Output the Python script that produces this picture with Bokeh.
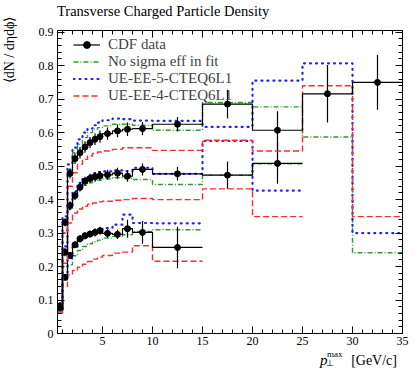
import numpy as np
from bokeh.plotting import figure
from bokeh.layouts import column, row
from bokeh.models import (LinearAxis, FixedTicker, CustomJSTickFormatter, Legend,
                          LegendItem, Range1d, Div)
from bokeh.embed import file_html
from bokeh.resources import INLINE

# ---------------- data ----------------
edges_hi = [0.5, 1, 1.5, 2, 2.5, 3, 3.5, 4, 4.5, 5, 6, 7, 8, 10, 15, 20, 25, 30, 35]
edges_mid = edges_hi[:17]
edges_lo = edges_hi[:15]

data_hi = [0.078, 0.332, 0.478, 0.522, 0.540, 0.557, 0.570, 0.580, 0.588, 0.597, 0.605, 0.610, 0.612, 0.625, 0.685, 0.607, 0.716, 0.750]
err_hi = [0.008, 0.012, 0.015, 0.016, 0.017, 0.017, 0.017, 0.017, 0.018, 0.018, 0.019, 0.020, 0.020, 0.022, 0.043, 0.057, 0.086, 0.082]
green_hi = [0.070, 0.340, 0.490, 0.540, 0.565, 0.585, 0.600, 0.610, 0.615, 0.620, 0.625, 0.625, 0.622, 0.607, 0.690, 0.677, 0.587, 0.241]
blue_hi = [0.070, 0.350, 0.505, 0.555, 0.580, 0.600, 0.612, 0.622, 0.630, 0.637, 0.642, 0.640, 0.636, 0.635, 0.617, 0.755, 0.807, 0.300]
red_hi = [0.065, 0.300, 0.440, 0.480, 0.505, 0.520, 0.530, 0.538, 0.542, 0.545, 0.550, 0.555, 0.555, 0.547, 0.577, 0.545, 0.740, 0.349]

data_mid = [0.075, 0.243, 0.382, 0.412, 0.437, 0.455, 0.463, 0.468, 0.471, 0.474, 0.479, 0.470, 0.490, 0.477, 0.473, 0.508]
err_mid = [0.008, 0.012, 0.013, 0.013, 0.013, 0.013, 0.014, 0.014, 0.014, 0.015, 0.016, 0.017, 0.018, 0.020, 0.041, 0.061]
green_mid = [0.068, 0.245, 0.370, 0.410, 0.430, 0.443, 0.450, 0.455, 0.458, 0.462, 0.465, 0.463, 0.460, 0.445, 0.473, 0.507]
blue_mid = [0.068, 0.260, 0.385, 0.425, 0.450, 0.465, 0.472, 0.478, 0.482, 0.484, 0.487, 0.485, 0.495, 0.477, 0.575, 0.427]
red_mid = [0.060, 0.210, 0.330, 0.360, 0.372, 0.380, 0.386, 0.390, 0.393, 0.395, 0.398, 0.400, 0.403, 0.400, 0.432, 0.349]

data_lo = [0.083, 0.168, 0.233, 0.265, 0.283, 0.292, 0.297, 0.302, 0.307, 0.299, 0.296, 0.313, 0.302, 0.257]
err_lo = [0.007, 0.010, 0.010, 0.010, 0.011, 0.011, 0.011, 0.012, 0.012, 0.013, 0.014, 0.027, 0.034, 0.062]
green_lo = [0.065, 0.160, 0.205, 0.232, 0.248, 0.260, 0.268, 0.274, 0.279, 0.285, 0.290, 0.295, 0.305, 0.310]
blue_lo = [0.068, 0.170, 0.225, 0.258, 0.278, 0.290, 0.297, 0.303, 0.308, 0.315, 0.325, 0.355, 0.330, 0.329]
red_lo = [0.060, 0.140, 0.175, 0.188, 0.198, 0.207, 0.215, 0.222, 0.228, 0.233, 0.240, 0.243, 0.262, 0.216]

labels = ["CDF data", "No sigma eff in fit", "UE-EE-5-CTEQ6L1", "UE-EE-4-CTEQ6L1"]
title_text = "Transverse Charged Particle Density"
y_label = "\u27e8dN / d\u03b7d\u03d5\u27e9"
x_major = [5, 10, 15, 20, 25, 30, 35]
y_major = [0, 0.1, 0.2, 0.3, 0.4, 0.5, 0.6, 0.7, 0.8, 0.9]

SERIF = "Liberation Serif"
GREEN = "#2e9b2e"
BLUE = "#1f1fff"
RED = "#ff2a2a"

p = figure(width=395, height=330, output_backend="svg", toolbar_location=None,
           x_range=Range1d(0.5, 35), y_range=Range1d(0, 0.905),
           min_border_left=37, min_border_right=13, min_border_top=10, min_border_bottom=17)
p.title = None
p.grid.visible = False
p.outline_line_color = "black"
p.background_fill_color = "white"

xt = FixedTicker(ticks=x_major, minor_ticks=list(range(1, 36)))
yt = FixedTicker(ticks=y_major, minor_ticks=[round(i * 0.02, 2) for i in range(46)])
yfmt = CustomJSTickFormatter(code="return tick == 0 ? '0' : tick.toFixed(1);")
blank = CustomJSTickFormatter(code="return '';")


def style_axis(ax):
    ax.major_tick_in = 7
    ax.major_tick_out = 0
    ax.minor_tick_in = 4
    ax.minor_tick_out = 0
    ax.axis_line_color = "black"
    ax.major_tick_line_color = "black"
    ax.minor_tick_line_color = "black"
    ax.major_label_text_font = SERIF
    ax.major_label_text_font_size = "12px"
    ax.major_label_text_color = "black"


p.xaxis.ticker = xt
p.yaxis.ticker = yt
p.yaxis.formatter = yfmt
style_axis(p.xaxis[0])
style_axis(p.yaxis[0])
p.xaxis.major_label_standoff = 3
p.yaxis.major_label_standoff = 4

top = LinearAxis(ticker=xt, formatter=blank)
right = LinearAxis(ticker=yt, formatter=blank)
for ax in (top, right):
    style_axis(ax)
    ax.major_label_standoff = 0
    ax.major_label_text_font_size = "1px"
p.add_layout(top, "above")
p.add_layout(right, "right")


def hist(edges, vals, **kw):
    return p.step(x=edges, y=list(vals) + [vals[-1]], mode="after", **kw)


sets = [(edges_lo, data_lo, err_lo, green_lo, blue_lo, red_lo),
        (edges_mid, data_mid, err_mid, green_mid, blue_mid, red_mid),
        (edges_hi, data_hi, err_hi, green_hi, blue_hi, red_hi)]

leg_r = None
for edges, dat, err, gr, bl, rd in sets:
    rg = hist(edges, gr, line_color=GREEN, line_width=1.4, line_dash="5 2 1 2")
    rb = hist(edges, bl, line_color=BLUE, line_width=2.2, line_dash="1 5", line_cap="round")
    rr = hist(edges, rd, line_color=RED, line_width=1.4, line_dash="6 3")
    e = np.array(edges, dtype=float)
    c = (e[:-1] + e[1:]) / 2
    d = np.array(dat)
    s = np.array(err)
    rl = hist(edges, dat, line_color="black", line_width=1.2)
    p.segment(x0=c, y0=d - s, x1=c, y1=d + s, line_color="black", line_width=1.2)
    rp = p.scatter(c, d, size=6, color="black")
    leg_r = (rl, rp, rg, rb, rr)

rl, rp, rg, rb, rr = leg_r
legend = Legend(items=[LegendItem(label=labels[0], renderers=[rl, rp]),
                       LegendItem(label=labels[1], renderers=[rg]),
                       LegendItem(label=labels[2], renderers=[rb]),
                       LegendItem(label=labels[3], renderers=[rr])],
                location=(16, 229), margin=0, padding=5, spacing=0,
                glyph_width=27, glyph_height=17, label_height=17, label_standoff=8,
                label_text_font=SERIF, label_text_font_size="15px",
                background_fill_alpha=0, border_line_color=None)
p.add_layout(legend)

# title above the frame, left-aligned with the frame
title_html = (
    "<div style=\"position:relative;width:395px;height:20px;overflow:hidden;"
    "font-family:'Liberation Serif',serif;color:#000;\">"
    "<span style=\"position:absolute;left:37px;top:4px;white-space:nowrap;"
    "font-size:14.5px;line-height:14.5px;\">" + title_text + "</span></div>"
)
tdiv = Div(text=title_html, width=395, height=20, margin=0)

# y-axis label, placed at the top end of the axis (rotated text)
ylab_html = (
    "<div style=\"position:relative;width:20px;height:371px;overflow:hidden;"
    "font-family:'Liberation Serif',serif;color:#000;\">"
    "<span style=\"position:absolute;left:10px;top:50px;white-space:nowrap;"
    "font-size:14px;line-height:14px;transform:translate(-50%,-50%) rotate(-90deg);\">"
    + y_label + "</span></div>"
)
ylab = Div(text=ylab_html, width=20, height=371, margin=0)

# x-axis label: p with subscript ⊥ and superscript "max", then the unit
xlab_html = (
    "<div style=\"position:relative;width:395px;height:21px;overflow:hidden;"
    "font-family:'Liberation Serif',serif;color:#000;\">"
    "<span style=\"position:absolute;left:300px;top:3px;font-size:15px;line-height:15px;"
    "font-style:italic;\">p</span>"
    "<span style=\"position:absolute;left:307px;top:0px;font-size:9px;line-height:9px;\">max</span>"
    "<span style=\"position:absolute;left:306px;top:9px;font-size:9px;line-height:9px;\">\u22a5</span>"
    "<span style=\"position:absolute;right:18px;top:4px;font-size:14px;line-height:14px;"
    "white-space:nowrap;\">[GeV/c]</span>"
    "</div>"
)
xlab = Div(text=xlab_html, width=395, height=21, margin=0)

layout = row(ylab, column(tdiv, p, xlab, spacing=0), spacing=0)
open("out.html", "w").write(file_html(layout, INLINE))
